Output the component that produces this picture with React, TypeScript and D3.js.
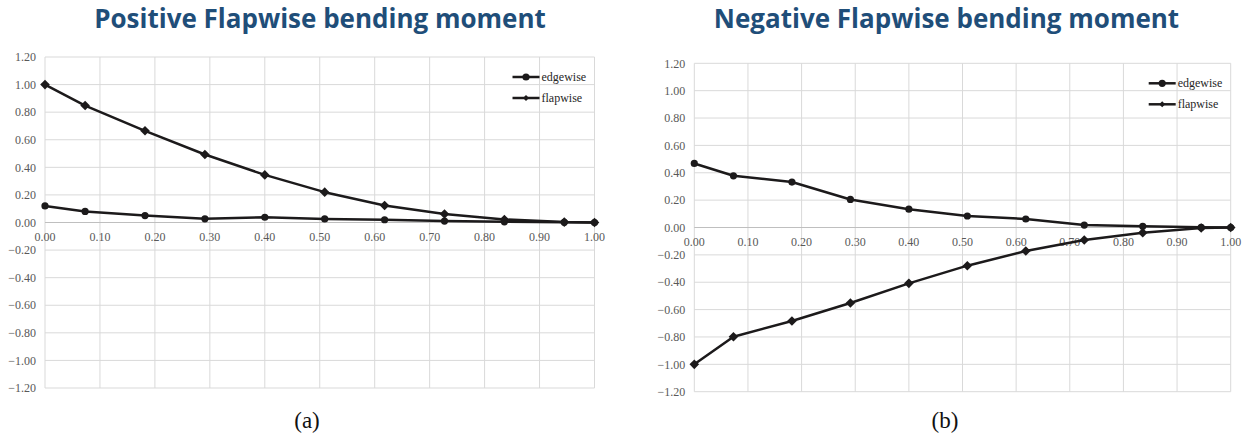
import React from 'react';
import * as d3 from 'd3';

// span positions (r/R) shared by all four series
const stations = [0, 0.073, 0.182, 0.291, 0.4, 0.509, 0.618, 0.727, 0.836, 0.945, 1.0];

// (a) positive flapwise load case
const posEdgewise = [0.12, 0.08, 0.05, 0.027, 0.038, 0.026, 0.02, 0.01, 0.005, 0.001, 0];
const posFlapwise = [1.0, 0.848, 0.665, 0.493, 0.345, 0.22, 0.123, 0.062, 0.022, 0.003, 0];

// (b) negative flapwise load case
const negEdgewise = [0.468, 0.378, 0.332, 0.205, 0.134, 0.084, 0.062, 0.018, 0.009, 0.001, 0];
const negFlapwise = [-1.0, -0.798, -0.683, -0.552, -0.408, -0.279, -0.172, -0.091, -0.038, -0.004, 0];

const xTicks = [0, 0.1, 0.2, 0.3, 0.4, 0.5, 0.6, 0.7, 0.8, 0.9, 1.0];
const yTicks = [1.2, 1.0, 0.8, 0.6, 0.4, 0.2, 0, -0.2, -0.4, -0.6, -0.8, -1.0, -1.2];

const titleColor = '#1f4e79';
const lineColor = '#1c1a1b';
const gridColor = '#d9d9d9';
const serif = '"Liberation Serif", "Times New Roman", serif';

function Diamond({ cx, cy, r }) {
    return <path d={`M${cx},${cy - r}L${cx + r},${cy}L${cx},${cy + r}L${cx - r},${cy}Z`} fill={lineColor} />;
}

function Panel({ left, right, top, bottom, title, titleX, caption, captionX, edgewise, flapwise }) {
    let x = d3.scaleLinear().domain([0, 1]).range([left, right]);
    let y = d3.scaleLinear().domain([-1.2, 1.2]).range([bottom, top]);

    let line = d3.line()
        .x((d, i) => x(stations[i]))
        .y(d => y(d));

    let legX = right - 82;
    let legY = top + 20;

    return (
        <g>
            <text x={titleX} y={28} textAnchor="middle" fontFamily='"Open Sans", sans-serif'
                  fontWeight="bold" fontSize={26} fill={titleColor}>{title}</text>

            {yTicks.map((t, i) =>
                <line key={'h' + i} x1={left} x2={right} y1={y(t)} y2={y(t)} stroke={gridColor} strokeWidth={1} />
            )}
            {xTicks.map((t, i) =>
                <line key={'v' + i} x1={x(t)} x2={x(t)} y1={top} y2={bottom} stroke={gridColor} strokeWidth={1} />
            )}
            <line x1={left} x2={right} y1={y(0)} y2={y(0)} stroke="#bfbfbf" strokeWidth={1} />

            {yTicks.map((t, i) =>
                <text key={'yl' + i} x={left - 9} y={y(t)} dy="0.35em" textAnchor="end"
                      fontFamily={serif} fontSize={12} fill="#595959">{d3.format('.2f')(t)}</text>
            )}
            {xTicks.map((t, i) =>
                <text key={'xl' + i} x={x(t)} y={y(0) + 18} textAnchor="middle"
                      fontFamily={serif} fontSize={12} fill="#595959">{d3.format('.2f')(t)}</text>
            )}

            <path d={line(edgewise)} fill="none" stroke={lineColor} strokeWidth={2.5} strokeLinejoin="round" />
            <path d={line(flapwise)} fill="none" stroke={lineColor} strokeWidth={2.5} strokeLinejoin="round" />
            {edgewise.map((v, i) =>
                <circle key={'e' + i} cx={x(stations[i])} cy={y(v)} r={3.6} fill={lineColor} />
            )}
            {flapwise.map((v, i) =>
                <Diamond key={'f' + i} cx={x(stations[i])} cy={y(v)} r={4.8} />
            )}

            <line x1={legX} x2={legX + 27} y1={legY} y2={legY} stroke={lineColor} strokeWidth={2.5} />
            <circle cx={legX + 13.5} cy={legY} r={3.6} fill={lineColor} />
            <text x={legX + 29} y={legY} dy="0.33em" fontFamily={serif} fontSize={12} fill="#262626">edgewise</text>
            <line x1={legX} x2={legX + 27} y1={legY + 21} y2={legY + 21} stroke={lineColor} strokeWidth={2.5} />
            <Diamond cx={legX + 13.5} cy={legY + 21} r={3} />
            <text x={legX + 29} y={legY + 21} dy="0.33em" fontFamily={serif} fontSize={12} fill="#262626">flapwise</text>

            <text x={captionX} y={428} textAnchor="middle" fontFamily={serif} fontSize={23} fill="#111">{caption}</text>
        </g>
    );
}

export default function App() {
    return (
        <svg width={1250} height={438} style={{ position: 'absolute', left: 0, top: 0, background: '#fff' }}>
            <rect width={1250} height={438} fill="#fff" />
            <Panel left={45} right={594.5} top={57} bottom={388}
                   title="Positive Flapwise bending moment" titleX={320}
                   caption="(a)" captionX={307}
                   edgewise={posEdgewise} flapwise={posFlapwise} />
            <Panel left={694.3} right={1230.7} top={63.3} bottom={391.7}
                   title="Negative Flapwise bending moment" titleX={946.5}
                   caption="(b)" captionX={945}
                   edgewise={negEdgewise} flapwise={negFlapwise} />
        </svg>
    );
}
